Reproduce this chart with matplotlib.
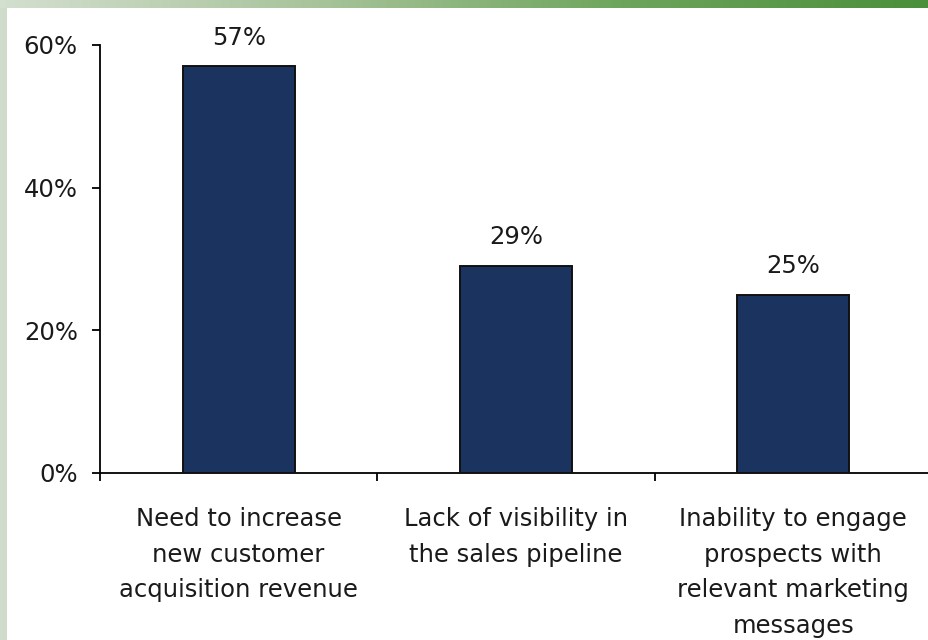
import matplotlib
matplotlib.use("Agg")
import matplotlib.pyplot as plt
import numpy as np
from matplotlib.colors import LinearSegmentedColormap

categories = ["Need to increase\nnew customer\nacquisition revenue",
              "Lack of visibility in\nthe sales pipeline",
              "Inability to engage\nprospects with\nrelevant marketing\nmessages"]
values = [57, 29, 25]
value_labels = ["57%", "29%", "25%"]
yticks = [0, 20, 40, 60]
ytick_labels = ["0%", "20%", "40%", "60%"]

plt.rcParams['font.family'] = ['DejaVu Sans']

fig = plt.figure(figsize=(9.29, 6.4), dpi=100)
fig.patch.set_facecolor("white")

# decorative background: left strip and top gradient band
strip = fig.add_axes([0, 0, 7/929, 1])
strip.set_facecolor("#cfdbcb")
strip.set_xticks([]); strip.set_yticks([])
for s in strip.spines.values():
    s.set_visible(False)

band = fig.add_axes([0, 1 - 8/640, 1, 8/640])
cmap = LinearSegmentedColormap.from_list("g", ["#d3dfcf", "#a9c49c", "#6ea55d", "#4a8f3a"])
band.imshow(np.linspace(0, 1, 256)[None, :], aspect="auto", cmap=cmap, extent=[0, 1, 0, 1])
band.set_axis_off()

FS = 17.5
TXT = "#1a1a1a"

ax = fig.add_axes([100/929, 167/640, 832/929, 428/640])
x = np.arange(len(categories))
ax.bar(x, values, width=0.404, color="#1b335f", edgecolor="#111111", linewidth=1.4, zorder=3)
ax.set_xlim(-0.5, 2.5)
ax.set_ylim(0, 60)
ax.set_yticks(yticks)
ax.set_yticklabels(ytick_labels, fontsize=FS, color=TXT)
ax.set_xticks([-0.5, 0.5, 1.5, 2.5])
ax.set_xticklabels([])
ax.tick_params(axis="y", direction="out", length=6, width=1.3, pad=10)
ax.tick_params(axis="x", direction="out", length=6, width=1.3)
for s in ["top", "right"]:
    ax.spines[s].set_visible(False)
ax.spines["left"].set_linewidth(1.3)
ax.spines["bottom"].set_linewidth(1.3)

for xi, v, lab in zip(x, values, value_labels):
    ax.annotate(lab, (xi, v), xytext=(0, 12), textcoords="offset points",
                ha="center", va="bottom", fontsize=FS, color=TXT)

for xi, cat in zip(x, categories):
    ax.text(xi, -0.08, cat, transform=ax.get_xaxis_transform(), ha="center", va="top",
            fontsize=FS, color=TXT, linespacing=1.61)

fig.savefig("out.png", dpi=100, facecolor="white")
